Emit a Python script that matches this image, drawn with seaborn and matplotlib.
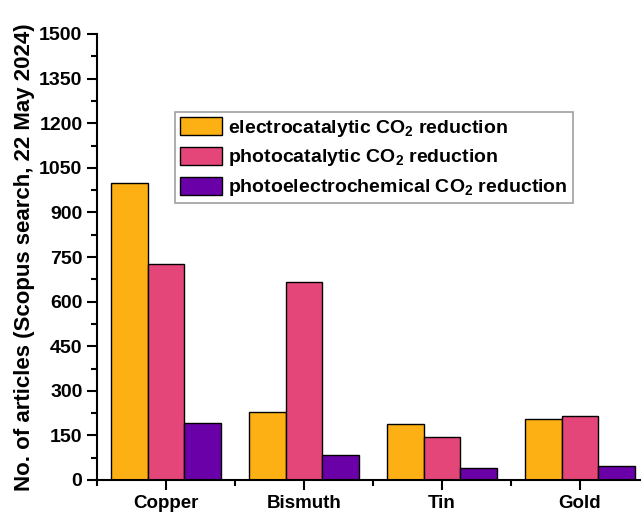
import pandas as pd
import numpy as np
import matplotlib
matplotlib.use('Agg')
import matplotlib.pyplot as plt
from matplotlib.ticker import MultipleLocator, FixedLocator
import seaborn as sns

# ==================== DATA ====================
metals = ['Copper', 'Bismuth', 'Tin', 'Gold']
electro = [1000, 228, 187, 205]
photo = [727, 667, 144, 216]
photoelectro = [191, 85, 39, 46]

series_names = [
    r'electrocatalytic CO$_{\mathrm{2}}$ reduction',
    r'photocatalytic CO$_{\mathrm{2}}$ reduction',
    r'photoelectrochemical CO$_{\mathrm{2}}$ reduction',
]
colors = ['#FDB014', '#E5467A', '#6A00A8']

df = pd.DataFrame({
    'metal': metals * 3,
    'articles': electro + photo + photoelectro,
    'type': [series_names[0]] * 4 + [series_names[1]] * 4 + [series_names[2]] * 4,
})

# ==================== STYLE ====================
sns.set_style('ticks')
plt.rcParams['font.family'] = ['Liberation Sans', 'DejaVu Sans']
plt.rcParams['font.weight'] = 'bold'
plt.rcParams['mathtext.fontset'] = 'custom'
plt.rcParams['mathtext.rm'] = 'Liberation Sans:bold'
plt.rcParams['mathtext.bf'] = 'Liberation Sans:bold'
plt.rcParams['mathtext.it'] = 'Liberation Sans:bold'
for key in ['text.color', 'axes.labelcolor', 'xtick.color', 'ytick.color', 'axes.edgecolor']:
    plt.rcParams[key] = 'black'

fig = plt.figure(figsize=(6.41, 5.12), dpi=100)
ax = fig.add_axes([97 / 641, 32 / 512, 552 / 641, 446 / 512])

sns.barplot(data=df, x='metal', y='articles', hue='type', order=metals,
            hue_order=series_names, palette=colors, width=0.8,
            edgecolor='black', linewidth=1.0, saturation=1, ax=ax)

ax.set_xlim(-0.5, 3.5)
ax.set_ylim(0, 1500)
ax.yaxis.set_major_locator(MultipleLocator(150))
ax.yaxis.set_minor_locator(MultipleLocator(75))
ax.xaxis.set_minor_locator(FixedLocator([-0.5, 0.5, 1.5, 2.5, 3.5]))
ax.tick_params(axis='both', which='major', length=7, width=1.5)
ax.tick_params(axis='y', labelsize=14)
ax.tick_params(axis='x', labelsize=13.5)
ax.tick_params(axis='both', which='minor', length=4, width=1.5)
for lab in ax.get_xticklabels() + ax.get_yticklabels():
    lab.set_fontweight('bold')

for side in ['top', 'right']:
    ax.spines[side].set_visible(False)
for side in ['left', 'bottom']:
    ax.spines[side].set_linewidth(1.5)

ax.set_xlabel('')
ax.set_ylabel('No. of articles (Scopus search, 22 May 2024)', fontsize=16,
              fontweight='bold', labelpad=3)

leg = ax.legend(loc='upper left', bbox_to_anchor=(0.141, 0.825), borderaxespad=0,
                fontsize=14, frameon=True, fancybox=False, handlelength=2.2,
                handleheight=1.05, labelspacing=0.42, handletextpad=0.3,
                borderpad=0.25)
leg.get_frame().set_edgecolor('#888888')
leg.get_frame().set_linewidth(1.2)
for t in leg.get_texts():
    t.set_fontweight('bold')

fig.savefig('out.png', dpi=100)
